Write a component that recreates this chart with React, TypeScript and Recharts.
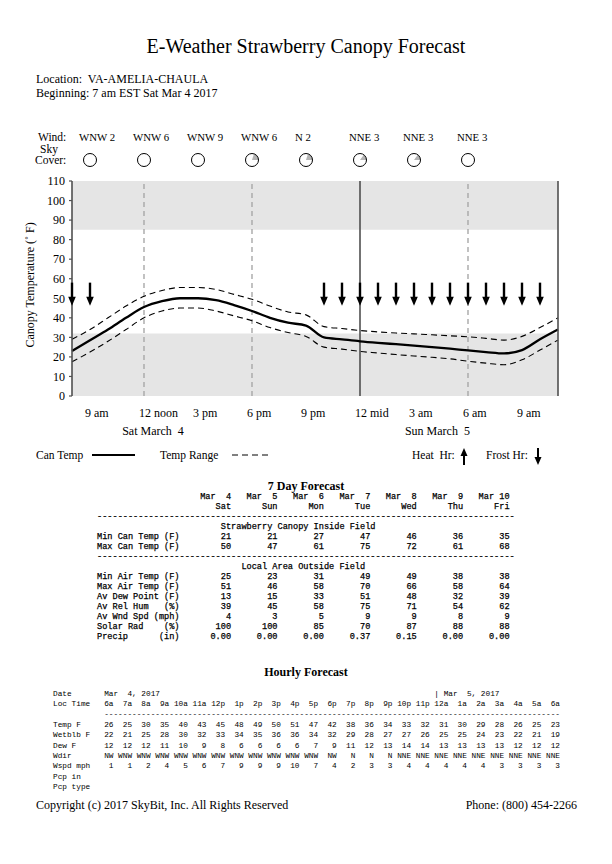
import React from "react";
import {
  ComposedChart,
  Line,
  Scatter,
  XAxis,
  YAxis,
  ReferenceArea,
  ReferenceLine,
} from "recharts";

// hours since midnight Sat Mar 4 (8 = 8 am Sat, 35 = 11 am Sun)
const HOURS = [8, 9, 10, 11, 12, 13, 14, 15, 16, 17, 18, 19, 20, 21, 22, 23, 24, 25, 26, 27, 28, 29, 30, 31, 32, 33, 34, 35];
const CAN_TEMP = [23, 28.5, 34, 40, 45.5, 48.5, 50, 50, 49, 46.5, 43.5, 40, 37.5, 36, 30, 29, 28, 27.2, 26.5, 25.8, 25, 24.2, 23.3, 22.5, 21.8, 23.5, 29, 34];
const RANGE_HI = [29, 34, 40, 46, 51, 54, 55.5, 55.5, 54.5, 52, 49.5, 46, 43, 41.5, 35.5, 34.5, 33.5, 32.8, 32.2, 31.8, 31.3, 30.8, 30.3, 29.5, 28.6, 30.5, 35, 40];
const RANGE_LO = [17.5, 22.5, 28, 34, 40, 43.5, 45, 45, 43.5, 41, 38.5, 35, 32.5, 30.5, 25, 24, 22.8, 22, 21.2, 20.5, 19.8, 19, 17.8, 16.8, 16, 18.5, 23.5, 28.6];

const FROST_HOURS = [8, 9, 22, 23, 24, 25, 26, 27, 28, 29, 30, 31, 32, 33, 34];
const FROST_ARROW_TOP = 58;

const FREEZE_BAND = [0, 32];
const HEAT_BAND = [85, 110];
const DASHED_GRID_HOURS = [12, 18, 30];
const MIDNIGHT = 24;

const TIME_TICKS = [9, 12, 15, 18, 21, 24, 27, 30, 33];
const TIME_LABELS = ["9 am", "12 noon", "3 pm", "6 pm", "9 pm", "12 mid", "3 am", "6 am", "9 am"];
const DAY_TICKS = [12.5, 28.3];
const DAY_LABELS = ["Sat March  4", "Sun March  5"];

const WIND_HOURS = [9, 12, 15, 18, 21, 24, 27, 30];
const WIND_LABELS = ["WNW 2", "WNW 6", "WNW 9", "WNW 6", "N 2", "NNE 3", "NNE 3", "NNE 3"];
const SKY_COVER = [0, 0, 0, 0.2, 0.2, 0.15, 0.15, 0];

const Y_TICKS = [0, 10, 20, 30, 40, 50, 60, 70, 80, 90, 100, 110];

// 7 day table
const DAY_DATES = ["Mar  4", "Mar  5", "Mar  6", "Mar  7", "Mar  8", "Mar  9", "Mar 10"];
const DAY_NAMES = ["Sat", "Sun", "Mon", "Tue", "Wed", "Thu", "Fri"];
const MIN_CAN = [21, 21, 27, 47, 46, 36, 35];
const MAX_CAN = [50, 47, 61, 75, 72, 61, 68];
const MIN_AIR = [25, 23, 31, 49, 49, 38, 38];
const MAX_AIR = [51, 46, 58, 70, 66, 58, 64];
const AV_DEW = [13, 15, 33, 51, 48, 32, 39];
const AV_RH = [39, 45, 58, 75, 71, 54, 62];
const AV_WSPD = [4, 3, 5, 9, 9, 8, 9];
const SOLAR = [100, 100, 85, 70, 87, 88, 88];
const PRECIP = ["0.00", "0.00", "0.00", "0.37", "0.15", "0.00", "0.00"];

// hourly table
const HR_LABELS = ["6a", "7a", "8a", "9a", "10a", "11a", "12p", "1p", "2p", "3p", "4p", "5p", "6p", "7p", "8p", "9p", "10p", "11p", "12a", "1a", "2a", "3a", "4a", "5a", "6a"];
const HR_TEMP = [26, 25, 30, 35, 40, 43, 45, 48, 49, 50, 51, 47, 42, 38, 36, 34, 33, 32, 31, 30, 29, 28, 26, 25, 23];
const HR_WETBLB = [22, 21, 25, 28, 30, 32, 33, 34, 35, 36, 36, 34, 32, 29, 28, 27, 27, 26, 25, 25, 24, 23, 22, 21, 19];
const HR_DEW = [12, 12, 12, 11, 10, 9, 8, 6, 6, 6, 6, 7, 9, 11, 12, 13, 14, 14, 13, 13, 13, 13, 12, 12, 12];
const HR_WDIR = ["NW", "WNW", "WNW", "WNW", "WNW", "WNW", "WNW", "WNW", "WNW", "WNW", "WNW", "WNW", "NW", "N", "N", "N", "NNE", "NNE", "NNE", "NNE", "NNE", "NNE", "NNE", "NNE", "NNE"];
const HR_WSPD = [1, 1, 2, 4, 5, 6, 7, 9, 9, 9, 10, 7, 4, 2, 3, 3, 4, 4, 4, 4, 4, 3, 3, 3, 3];

const SERIF = "'Liberation Serif', 'Times New Roman', serif";
const MONO = "'Liberation Mono', 'Courier New', monospace";
const FRAME = "#505050";

function WindTick(props: any) {
  const { x, y, payload } = props;
  const i = WIND_HOURS.indexOf(payload.value);
  if (i < 0) return null;
  const r = 6.5;
  const cy = y - 21;
  const frac = SKY_COVER[i];
  let wedge = null;
  if (frac > 0) {
    const a = frac * 2 * Math.PI;
    const ex = x + r * Math.cos(a);
    const ey = cy - r * Math.sin(a);
    wedge = <path d={`M${x},${cy} L${x + r},${cy} A${r},${r} 0 0 0 ${ex},${ey} Z`} fill="#b4b4b4" />;
  }
  return (
    <g>
      <text x={x - 11} y={y - 40} fontFamily={SERIF} fontSize={10.8} fill="#000">
        {WIND_LABELS[i]}
      </text>
      {wedge}
      <circle cx={x} cy={cy} r={r} fill="none" stroke="#000" strokeWidth={1} />
    </g>
  );
}

function TimeTick(props: any) {
  const { x, y, payload } = props;
  const ti = TIME_TICKS.indexOf(payload.value);
  if (ti >= 0) {
    return (
      <text x={x - 5} y={y + 21} fontFamily={SERIF} fontSize={12} fill="#000">
        {TIME_LABELS[ti]}
      </text>
    );
  }
  const di = DAY_TICKS.indexOf(payload.value);
  if (di < 0) return null;
  return (
    <text x={x} y={y + 39} textAnchor="middle" fontFamily={SERIF} fontSize={12} fill="#000" style={{ whiteSpace: "pre" }}>
      {DAY_LABELS[di]}
    </text>
  );
}

function FrostArrow(props: any) {
  const { cx, cy } = props;
  return (
    <g>
      <line x1={cx} y1={cy} x2={cx} y2={cy + 16} stroke="#000" strokeWidth={2.4} />
      <path d={`M${cx - 3.8},${cy + 14} L${cx + 3.8},${cy + 14} L${cx},${cy + 23} Z`} fill="#000" />
    </g>
  );
}

const pad = (s: string | number, n: number) => String(s).padStart(n);
const tableRow = (label: string, vals: (string | number)[]) =>
  label.padEnd(20) + vals.map((v, i) => pad(v, i === 0 ? 6 : 9)).join("");

const SEVEN_DAY_LINES = [
  tableRow("", DAY_DATES),
  tableRow("", DAY_NAMES),
  "-".repeat(81),
  " ".repeat(24) + "Strawberry Canopy Inside Field",
  tableRow("Min Can Temp (F)", MIN_CAN),
  tableRow("Max Can Temp (F)", MAX_CAN),
  "-".repeat(81),
  " ".repeat(28) + "Local Area Outside Field",
  tableRow("Min Air Temp (F)", MIN_AIR),
  tableRow("Max Air Temp (F)", MAX_AIR),
  tableRow("Av Dew Point (F)", AV_DEW),
  tableRow("Av Rel Hum   (%)", AV_RH),
  tableRow("Av Wnd Spd (mph)", AV_WSPD),
  tableRow("Solar Rad    (%)", SOLAR),
  tableRow("Precip      (in)", PRECIP),
];

const hourRow = (label: string, vals: (string | number)[]) =>
  label.padEnd(9) + vals.map((v) => pad(v, 4)).join("");

const HOURLY_LINES = [
  "Date".padEnd(11) + "Mar  4, 2017".padEnd(71) + "| Mar  5, 2017",
  hourRow("Loc Time", HR_LABELS),
  " ".repeat(11) + "-".repeat(98),
  hourRow("Temp F", HR_TEMP),
  hourRow("Wetblb F", HR_WETBLB),
  hourRow("Dew F", HR_DEW),
  hourRow("Wdir", HR_WDIR),
  hourRow("Wspd mph", HR_WSPD),
  "Pcp in",
  "Pcp type",
];

export default function App() {
  const chartData = HOURS.map((t, i) => ({ t, can: CAN_TEMP[i], hi: RANGE_HI[i], lo: RANGE_LO[i] }));
  const frostData = FROST_HOURS.map((t) => ({ t, y: FROST_ARROW_TOP }));
  const timeTicks = [...TIME_TICKS, ...DAY_TICKS].sort((a, b) => a - b);
  const xDomain = [HOURS[0], HOURS[HOURS.length - 1]];

  return (
    <div style={{ position: "absolute", left: 0, top: 0, width: 612, height: 864, background: "#fff" }}>
      <div style={{ position: "absolute", left: 0, top: 0 }}>
        <ComposedChart width={612} height={445} data={chartData} margin={{ top: 131, right: 14, bottom: 5, left: 32 }}>
          <ReferenceArea xAxisId="bt" yAxisId="L" y1={HEAT_BAND[0]} y2={HEAT_BAND[1]} fill="#e5e5e5" fillOpacity={1} stroke="none" />
          <ReferenceArea xAxisId="bt" yAxisId="L" y1={FREEZE_BAND[0]} y2={FREEZE_BAND[1]} fill="#e5e5e5" fillOpacity={1} stroke="none" />
          {DASHED_GRID_HOURS.map((h) => (
            <ReferenceLine key={h} xAxisId="bt" yAxisId="L" x={h} stroke="#a8a8a8" strokeWidth={1.4} strokeDasharray="5 4" />
          ))}
          <ReferenceLine xAxisId="bt" yAxisId="L" x={MIDNIGHT} stroke="#444" strokeWidth={1.5} />

          <XAxis xAxisId="bt" dataKey="t" type="number" domain={xDomain} ticks={HOURS} interval={0}
            orientation="bottom" mirror height={0} tick={false} tickSize={3}
            axisLine={{ stroke: FRAME, strokeWidth: 1.6 }} tickLine={{ stroke: FRAME, strokeWidth: 1.2 }} />
          <XAxis xAxisId="time" dataKey="t" type="number" domain={xDomain} ticks={timeTicks} interval={0}
            orientation="bottom" height={44} tickSize={0} tickMargin={0} axisLine={false} tickLine={false}
            tick={<TimeTick />} />
          <XAxis xAxisId="tp" dataKey="t" type="number" domain={xDomain} ticks={HOURS} interval={0}
            orientation="top" mirror height={0} tick={false} tickSize={3}
            axisLine={{ stroke: FRAME, strokeWidth: 1.6 }} tickLine={{ stroke: FRAME, strokeWidth: 1.2 }} />
          <XAxis xAxisId="wind" dataKey="t" type="number" domain={xDomain} ticks={WIND_HOURS} interval={0}
            orientation="top" height={50} tickSize={0} tickMargin={0} axisLine={false} tickLine={false}
            tick={<WindTick />} />

          <YAxis yAxisId="L" type="number" domain={[0, 110]} ticks={Y_TICKS} interval={0} width={40}
            tickSize={3} tickMargin={4} axisLine={{ stroke: FRAME, strokeWidth: 1.6 }} tickLine={{ stroke: FRAME, strokeWidth: 1.2 }}
            tick={{ fill: "#000", fontSize: 12, fontFamily: SERIF }} />
          <YAxis yAxisId="R" orientation="right" type="number" domain={[0, 110]} ticks={Y_TICKS} interval={0} width={40}
            tickSize={3} tickMargin={13} axisLine={{ stroke: FRAME, strokeWidth: 1.6 }} tickLine={{ stroke: FRAME, strokeWidth: 1.2 }}
            tick={{ fill: "#000", fontSize: 12, fontFamily: SERIF, textAnchor: "start" }} />

          <Line xAxisId="bt" yAxisId="L" dataKey="hi" type="monotone" stroke="#000" strokeWidth={1.1}
            strokeDasharray="6 4" dot={false} activeDot={false} isAnimationActive={false} />
          <Line xAxisId="bt" yAxisId="L" dataKey="lo" type="monotone" stroke="#000" strokeWidth={1.1}
            strokeDasharray="6 4" dot={false} activeDot={false} isAnimationActive={false} />
          <Line xAxisId="bt" yAxisId="L" dataKey="can" type="monotone" stroke="#000" strokeWidth={2.3}
            dot={false} activeDot={false} isAnimationActive={false} />
          <Scatter xAxisId="bt" yAxisId="L" data={frostData} dataKey="y" shape={<FrostArrow />} isAnimationActive={false} />
        </ComposedChart>
      </div>

      <svg width={612} height={864} style={{ position: "absolute", left: 0, top: 0, pointerEvents: "none" }}>
        <text x={306} y={53} textAnchor="middle" fontFamily={SERIF} fontSize={20}>
          E-Weather Strawberry Canopy Forecast
        </text>
        <text x={36} y={82.5} fontFamily={SERIF} fontSize={12} style={{ whiteSpace: "pre" }}>
          Location:  VA-AMELIA-CHAULA
        </text>
        <text x={36} y={97} fontFamily={SERIF} fontSize={12}>
          Beginning: 7 am EST Sat Mar 4 2017
        </text>

        <text x={38} y={141} fontFamily={SERIF} fontSize={11.5}>Wind:</text>
        <text x={40} y={153} fontFamily={SERIF} fontSize={11.5}>Sky</text>
        <text x={35} y={164} fontFamily={SERIF} fontSize={11.5}>Cover:</text>

        <text x={30} y={285} transform="rotate(-90 30 285)" textAnchor="middle" dominantBaseline="central"
          fontFamily={SERIF} fontSize={12}>
          Canopy Temperature (˚ F)
        </text>

        <text x={36} y={459} fontFamily={SERIF} fontSize={11.5}>Can Temp</text>
        <line x1={92} y1={455} x2={135} y2={455} stroke="#000" strokeWidth={2} />
        <text x={160} y={459} fontFamily={SERIF} fontSize={11.5}>Temp Range</text>
        <line x1={232} y1={455} x2={270} y2={455} stroke="#000" strokeWidth={1} strokeDasharray="6 4" />
        <text x={412} y={459} fontFamily={SERIF} fontSize={11.5} style={{ whiteSpace: "pre" }}>Heat  Hr:</text>
        <line x1={464} y1={465} x2={464} y2={454} stroke="#000" strokeWidth={2} />
        <path d="M460.5,456 L467.5,456 L464,448 Z" fill="#000" />
        <text x={486} y={459} fontFamily={SERIF} fontSize={11.5}>Frost Hr:</text>
        <line x1={538} y1={448} x2={538} y2={459} stroke="#000" strokeWidth={2} />
        <path d="M534.5,457 L541.5,457 L538,465 Z" fill="#000" />

        <text x={306} y={490} textAnchor="middle" fontFamily={SERIF} fontSize={12} fontWeight="bold">
          7 Day Forecast
        </text>
        {SEVEN_DAY_LINES.map((s, i) => (
          <text key={i} x={97} y={499 + i * 10} fontFamily={MONO} fontSize={8.6} stroke="#000" strokeWidth={0.25}
            style={{ whiteSpace: "pre" }}>
            {s}
          </text>
        ))}

        <text x={306} y={676} textAnchor="middle" fontFamily={SERIF} fontSize={12} fontWeight="bold">
          Hourly Forecast
        </text>
        {HOURLY_LINES.map((s, i) => (
          <text key={i} x={53} y={695.5 + i * 10.4} fontFamily={MONO} fontSize={7.75} style={{ whiteSpace: "pre" }}>
            {s}
          </text>
        ))}

        <text x={36} y={809} fontFamily={SERIF} fontSize={12}>
          Copyright (c) 2017 SkyBit, Inc. All Rights Reserved
        </text>
        <text x={577} y={809} textAnchor="end" fontFamily={SERIF} fontSize={12}>
          Phone: (800) 454-2266
        </text>
      </svg>
    </div>
  );
}
